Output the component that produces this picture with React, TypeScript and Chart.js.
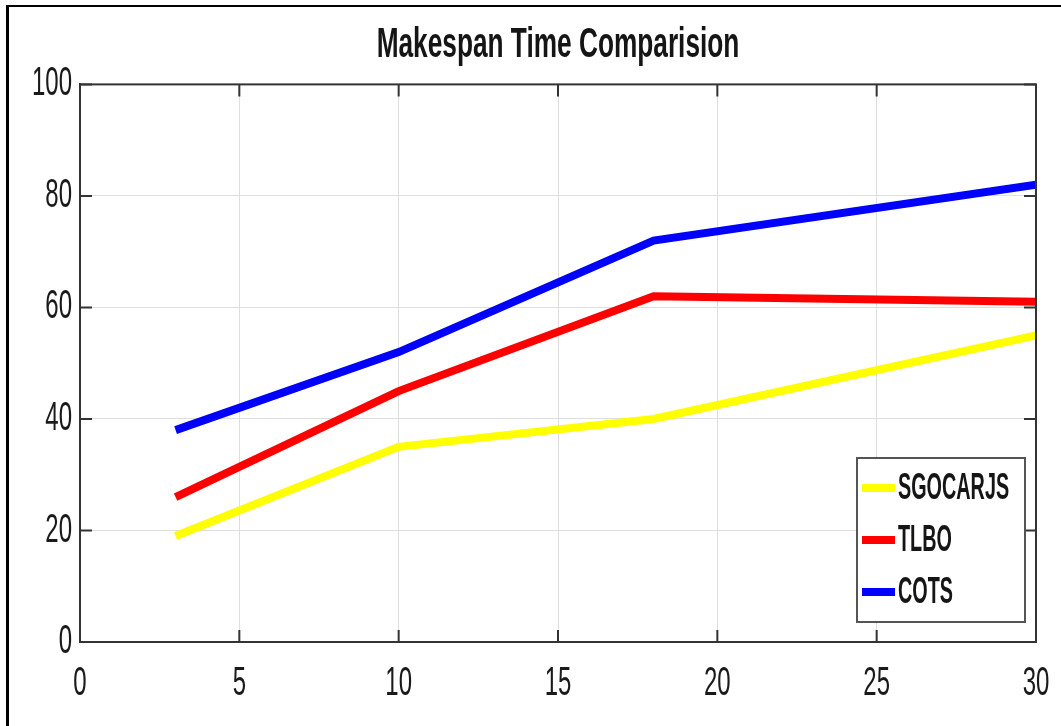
import React, { useEffect, useRef } from "react";
import { Chart, registerables } from "chart.js";
Chart.register(...registerables);

const chartTitle = "Makespan Time Comparision";
const xValues = [3, 10, 18, 30];
const sgocarjs = [19, 35, 40, 55];
const tlbo = [26, 45, 62, 61];
const cots = [38, 52, 72, 82];
const seriesNames = ["SGOCARJS", "TLBO", "COTS"];
const seriesColors = ["#ffff00", "#ff0000", "#0000ff"];
const xTicks = [0, 5, 10, 15, 20, 25, 30];
const yTicks = [0, 20, 40, 60, 80, 100];

const FONT = "'Liberation Sans', Arial, sans-serif";
const TICK_SX = 0.6;
const TITLE_SX = 0.625;
const LEGEND_SX = 0.55;
let legendMode = false;

function sxFor(font: string) {
  if (legendMode) return LEGEND_SX;
  if (font.indexOf("bold") >= 0) return TITLE_SX;
  return TICK_SX;
}

const boxPlugin = {
  id: "matlabBox",
  afterDatasetsDraw(chart: any) {
    const { ctx, chartArea } = chart;
    const xs = chart.scales.x;
    const ys = chart.scales.y;
    const { left, right, top, bottom } = chartArea;
    ctx.save();
    ctx.strokeStyle = "#333";
    ctx.lineWidth = 2;
    ctx.strokeRect(left, top, right - left, bottom - top);
    const tl = 12;
    ctx.beginPath();
    xTicks.forEach((v) => {
      const px = xs.getPixelForValue(v);
      ctx.moveTo(px, bottom);
      ctx.lineTo(px, bottom - tl);
      ctx.moveTo(px, top);
      ctx.lineTo(px, top + tl);
    });
    yTicks.forEach((v) => {
      const py = ys.getPixelForValue(v);
      ctx.moveTo(left, py);
      ctx.lineTo(left + tl, py);
      ctx.moveTo(right, py);
      ctx.lineTo(right - tl, py);
    });
    ctx.stroke();

    // legend
    const lw = 168;
    const lh = 164;
    const lx = right - 11 - lw;
    const ly = bottom - 20 - lh;
    ctx.fillStyle = "#fff";
    ctx.fillRect(lx, ly, lw, lh);
    ctx.strokeStyle = "#555";
    ctx.lineWidth = 2;
    ctx.strokeRect(lx, ly, lw, lh);
    ctx.font = `bold 36px ${FONT}`;
    ctx.textBaseline = "middle";
    ctx.textAlign = "left";
    legendMode = true;
    chart.data.datasets.forEach((ds: any, i: number) => {
      const cy = ly + 30 + i * 52;
      ctx.strokeStyle = ds.borderColor;
      ctx.lineWidth = 8;
      ctx.beginPath();
      ctx.moveTo(lx + 5, cy);
      ctx.lineTo(lx + 38, cy);
      ctx.stroke();
      ctx.fillStyle = "#151515";
      ctx.fillText(ds.label, lx + 41, cy + 1);
    });
    legendMode = false;
    ctx.restore();
  },
};

function condenseText(ctx: any) {
  const origFill = ctx.fillText.bind(ctx);
  const origMeasure = ctx.measureText.bind(ctx);
  ctx.fillText = (text: string, x: number, y: number) => {
    const sx = sxFor(ctx.font);
    ctx.save();
    ctx.translate(x, y);
    ctx.scale(sx, 1);
    origFill(text, 0, 0);
    ctx.restore();
  };
  ctx.measureText = (text: string) => {
    const sx = sxFor(ctx.font);
    const m = origMeasure(text);
    return {
      width: m.width * sx,
      actualBoundingBoxAscent: m.actualBoundingBoxAscent,
      actualBoundingBoxDescent: m.actualBoundingBoxDescent,
      actualBoundingBoxLeft: m.actualBoundingBoxLeft * sx,
      actualBoundingBoxRight: m.actualBoundingBoxRight * sx,
    };
  };
}

export default function App() {
  const ref = useRef<HTMLCanvasElement | null>(null);
  useEffect(() => {
    if (!ref.current) return;
    condenseText(ref.current.getContext("2d"));
    const all = [sgocarjs, tlbo, cots];
    const chart = new Chart(ref.current, {
      type: "line",
      data: {
        datasets: all.map((vals, i) => ({
          label: seriesNames[i],
          data: vals.map((y, j) => ({ x: xValues[j], y })),
          borderColor: seriesColors[i],
          backgroundColor: seriesColors[i],
          borderWidth: 8,
          pointRadius: 0,
          tension: 0,
          fill: false,
        })),
      },
      options: {
        animation: false,
        responsive: true,
        maintainAspectRatio: false,
        layout: { padding: { left: 0, right: 25, top: 0, bottom: 0 } },
        plugins: {
          legend: { display: false },
          tooltip: { enabled: false },
          title: {
            display: true,
            fullSize: false,
            text: chartTitle,
            color: "#151515",
            font: { family: FONT, size: 42, weight: "bold", lineHeight: 1.2 },
            padding: { top: 20, bottom: 14 },
          },
        },
        scales: {
          x: {
            type: "linear",
            min: 0,
            max: 30,
            afterBuildTicks: (s: any) => {
              s.ticks = xTicks.map((v) => ({ value: v }));
            },
            afterFit: (s: any) => {
              s.height = 84;
              s.paddingLeft = 0;
              s.paddingRight = 0;
            },
            grid: { color: "#dedede", lineWidth: 1, drawTicks: false },
            border: { display: true, color: "#333", width: 2 },
            ticks: {
              color: "#1a1a1a",
              padding: 18,
              maxRotation: 0,
              autoSkip: false,
              font: { family: FONT, size: 40 },
            },
          },
          y: {
            type: "linear",
            min: 0,
            max: 100,
            afterBuildTicks: (s: any) => {
              s.ticks = yTicks.map((v) => ({ value: v }));
            },
            afterFit: (s: any) => {
              s.width = 80;
            },
            grid: { color: "#dedede", lineWidth: 1, drawTicks: false },
            border: { display: true, color: "#333", width: 2 },
            ticks: {
              color: "#1a1a1a",
              padding: 8,
              autoSkip: false,
              font: { family: FONT, size: 40 },
            },
          },
        },
      },
      plugins: [boxPlugin],
    } as any);
    return () => chart.destroy();
  }, []);

  return (
    <div style={{ position: "fixed", left: 0, top: 0, width: 1061, height: 726, background: "#fff" }}>
      <canvas ref={ref} style={{ display: "block" }} />
      <div
        style={{
          position: "absolute",
          left: 6,
          top: 5,
          right: -10,
          bottom: -10,
          borderTop: "2px solid #000",
          borderLeft: "3px solid #000",
          pointerEvents: "none",
        }}
      />
    </div>
  );
}
